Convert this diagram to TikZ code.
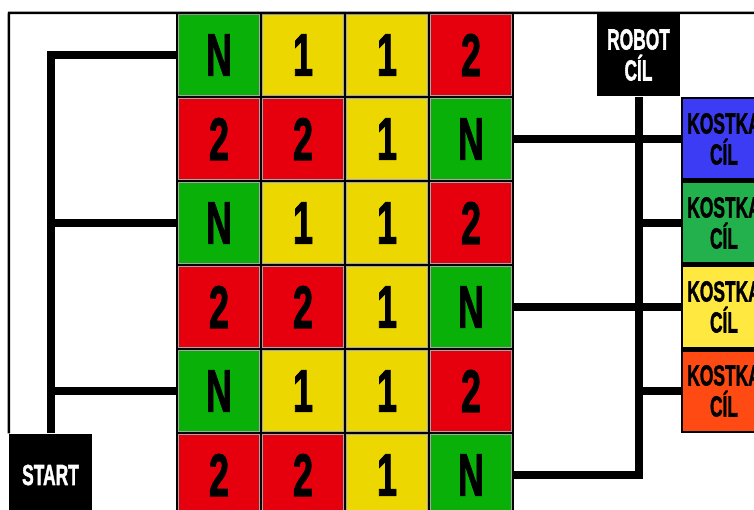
\documentclass[tikz,border=0pt]{standalone}
\usepackage{fontspec}
\setmainfont{Liberation Sans}
\newfontfamily\heavyfont{Liberation Sans}[UprightFont=*,BoldFont=* Bold,BoldFeatures={FakeBold=2}]
\usepackage{graphicx}
\usetikzlibrary{positioning,fit,backgrounds}
\definecolor{tilegreen}{RGB}{8,176,8}
\definecolor{tileyellow}{RGB}{236,216,0}
\definecolor{tilered}{RGB}{230,0,14}
\definecolor{cubeblue}{RGB}{60,60,245}
\definecolor{cubegreen}{RGB}{34,177,76}
\definecolor{cubeyellow}{RGB}{255,232,64}
\definecolor{cubeorange}{RGB}{255,74,20}
\newcommand{\narrow}[1]{\scalebox{0.6}[1]{#1}}
\tikzset{
  wire/.style={line width=8pt,draw=black},
  frame/.style={line width=2.5pt,draw=black},
  cell/.style={draw=gray!70,line width=0.8pt,minimum size=81pt,inner sep=0pt,
               font=\heavyfont\fontsize{60}{60}\selectfont\bfseries},
  cell N/.style={cell,fill=tilegreen},
  cell 1/.style={cell,fill=tileyellow},
  cell 2/.style={cell,fill=tilered},
  blackbox/.style={fill=black,text=white,minimum size=83pt,inner sep=0pt,align=center,
                   font=\heavyfont\fontsize{29}{31}\selectfont\bfseries},
  kostka/.style={draw=black,line width=2.5pt,minimum width=84pt,minimum height=81.5pt,
                 inner sep=0pt,align=center,font=\heavyfont\fontsize{29}{31}\selectfont\bfseries}
}
\begin{document}
\begin{tikzpicture}[x=1pt,y=-1pt]
  \useasboundingbox (0,0) rectangle (754,510);
  \clip (0,0) rectangle (754,510);
  % tiles
  \foreach \row [count=\r from 0] in {{N,1,1,2},{2,2,1,N},{N,1,1,2},{2,2,1,N},{N,1,1,2},{2,2,1,N}} {
    \foreach \v [count=\c from 0] in \row {
      \node[cell \v] (c-\r-\c) at ({219+84*\c},{55+84*\r}) {\narrow{\v}};
    }
  }
  \begin{scope}[on background layer]
    \node[fill=black,inner sep=2.5pt,fit=(c-0-0)(c-5-3)] (board) {};
  \end{scope}
  % start and goals
  \node[blackbox] (start) at (50.5,475) {\narrow{START}};
  \node[blackbox] (robot) at (638.5,55) {\narrow{ROBOT}\\\narrow{CÍL}};
  \node[kostka,fill=cubeblue] (kb) at (724,139) {\narrow{KOSTKA}\\\narrow{CÍL}};
  \node[kostka,fill=cubegreen,below=0pt of kb] (kg) {\narrow{KOSTKA}\\\narrow{CÍL}};
  \node[kostka,fill=cubeyellow,below=0pt of kg] (ky) {\narrow{KOSTKA}\\\narrow{CÍL}};
  \node[kostka,fill=cubeorange,below=0pt of ky] (ko) {\narrow{KOSTKA}\\\narrow{CÍL}};
  % outer frame
  \coordinate (corner) at (9,13);
  \coordinate (edge) at (760,13);
  \draw[frame] (start.north west) -- (corner) -- (edge);
  % left wiring
  \draw[wire] (c-0-0.west) -| (start.north);
  \draw[wire] (c-2-0.west) -- (c-2-0.west -| start);
  \draw[wire] (c-4-0.west) -- (c-4-0.west -| start);
  % right wiring
  \draw[wire] (robot.south) |- (c-5-3.east);
  \draw[wire] (c-1-3.east) -- (kb.west);
  \draw[wire] (c-3-3.east) -- (ky.west);
  \draw[wire] (kg.west) -- (kg.west -| robot);
  \draw[wire] (ko.west) -- (ko.west -| robot);
\end{tikzpicture}
\end{document}
